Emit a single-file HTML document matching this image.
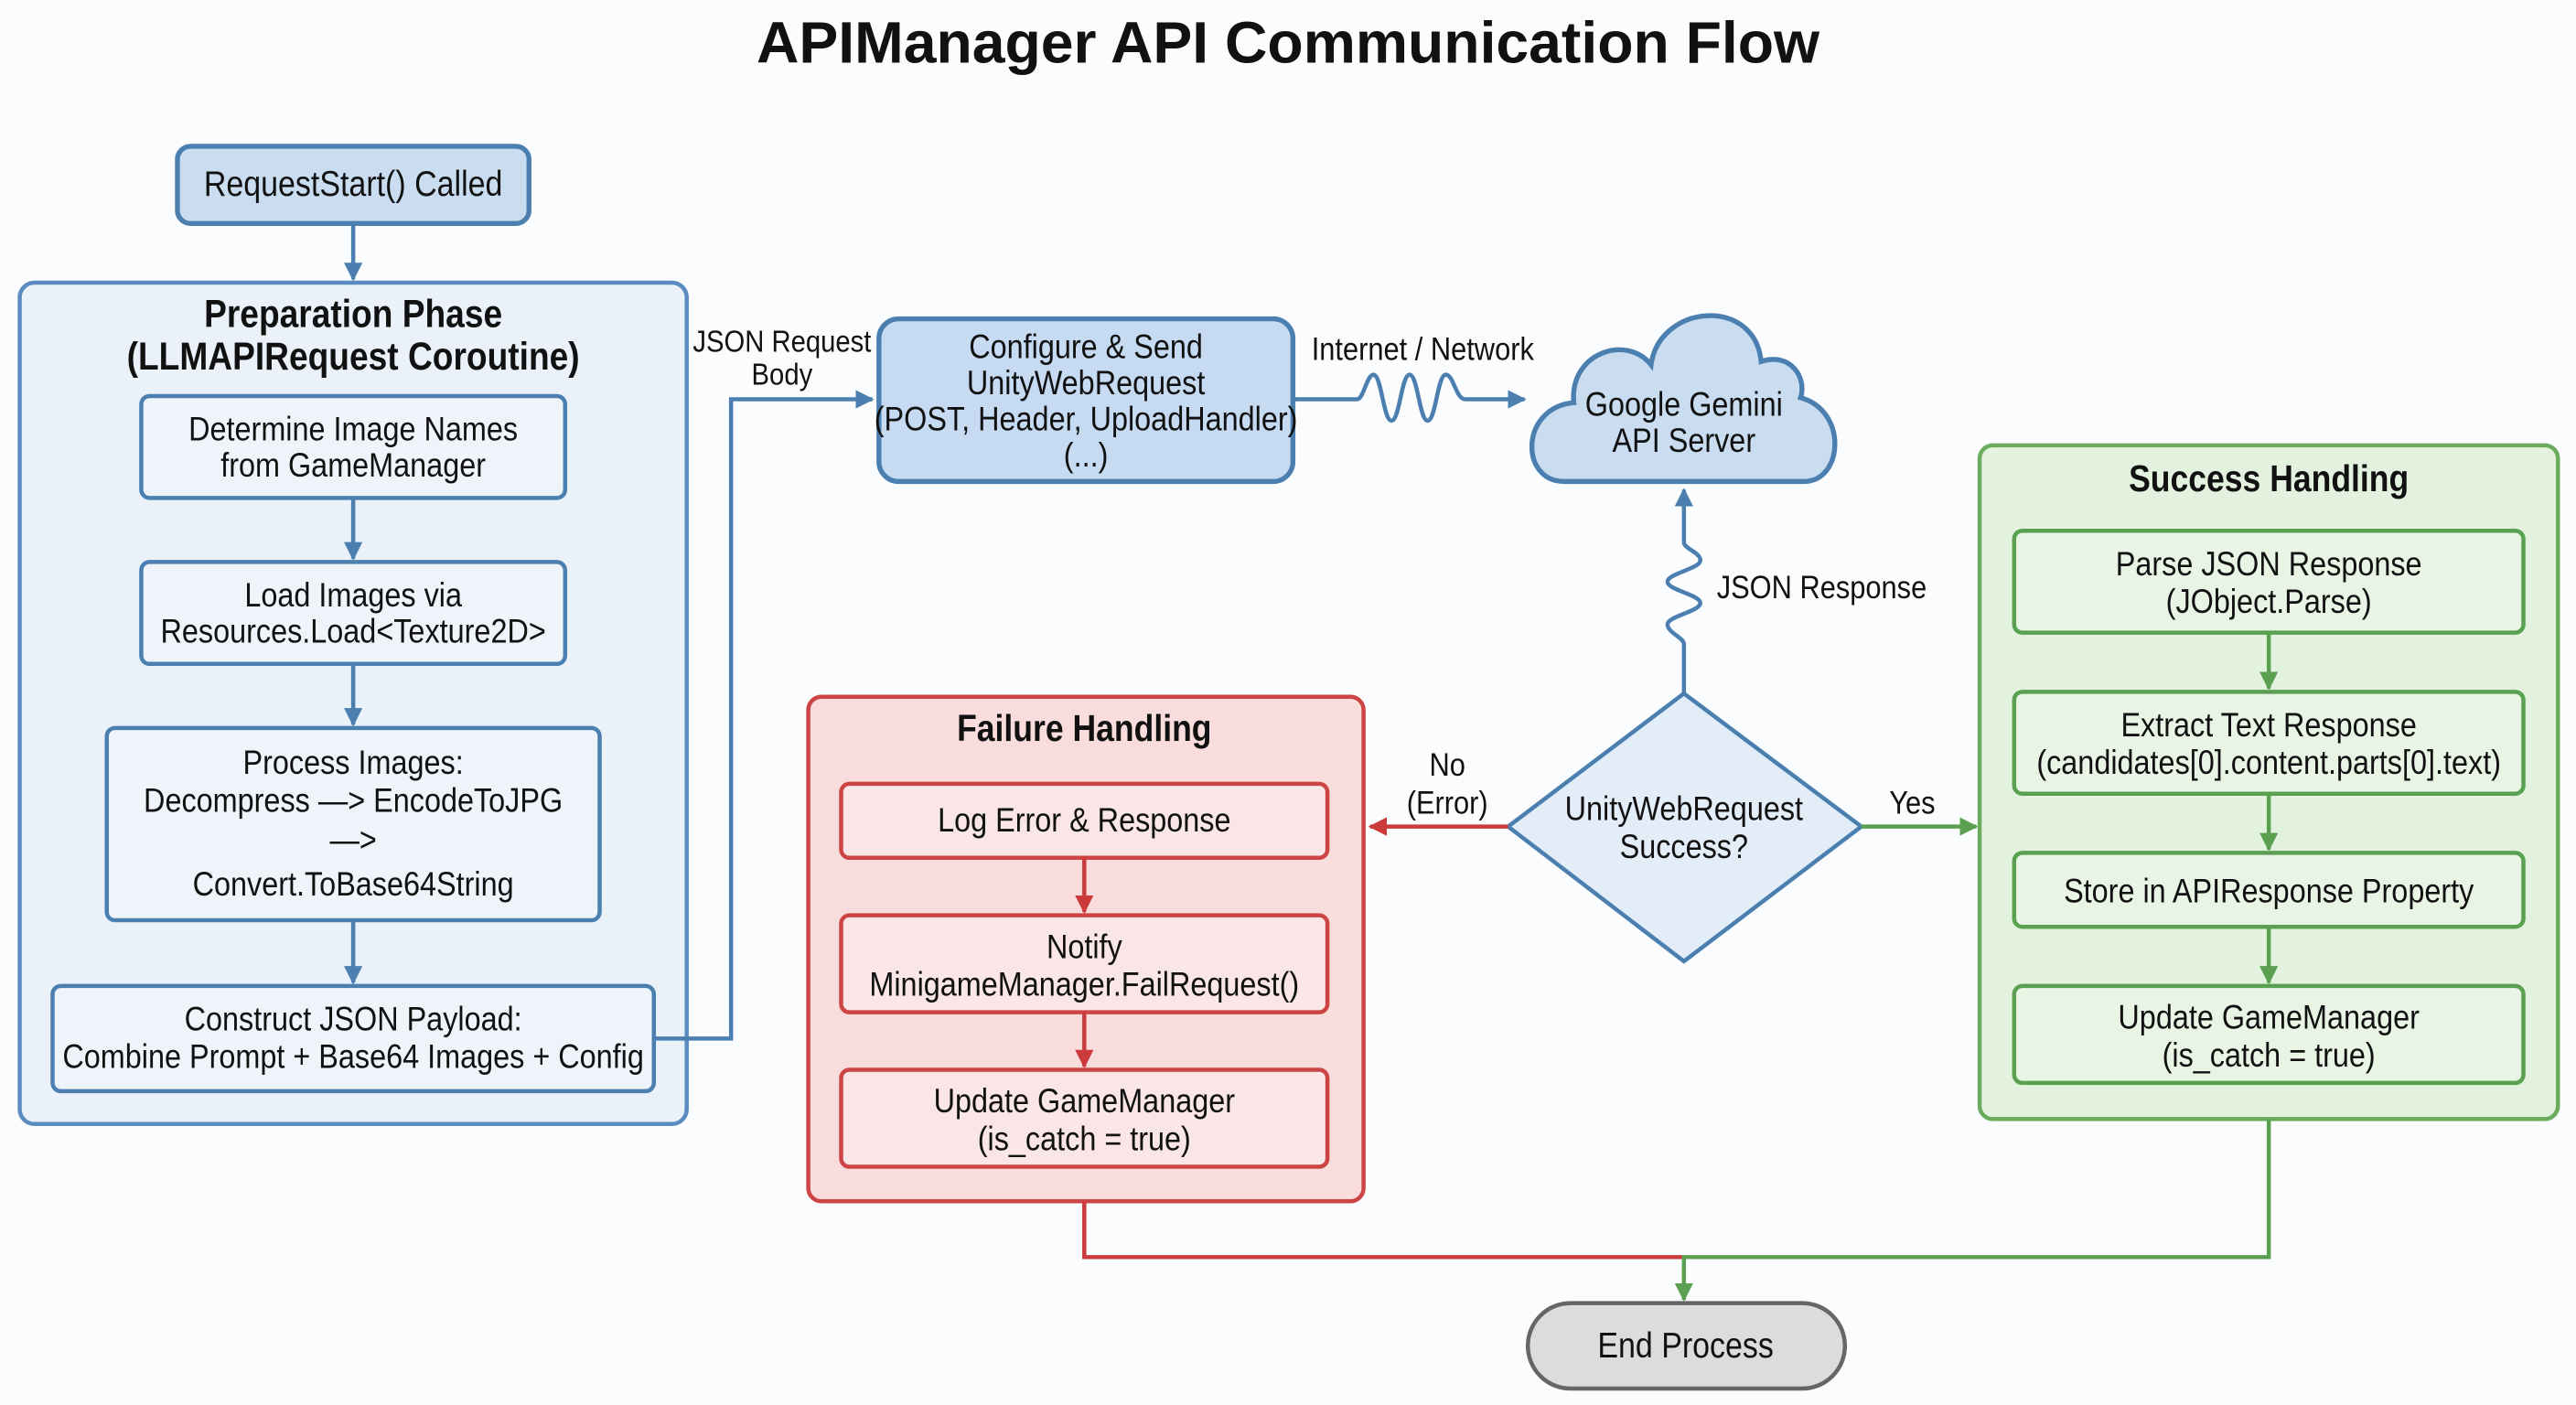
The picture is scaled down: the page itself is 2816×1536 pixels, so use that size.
<!DOCTYPE html>
<html><head><meta charset="utf-8"><style>
html,body{margin:0;padding:0;background:#fbfcfd;}
svg{display:block}
text{font-family:"Liberation Sans",sans-serif;fill:#111;text-anchor:middle;transform-box:fill-box;transform-origin:center;transform:scaleX(0.88)}
text.t{transform:none}
text.l{transform-origin:left center}
.b{font-weight:bold}
</style></head><body>
<svg width="2816" height="1536" viewBox="0 0 1568 855" preserveAspectRatio="none" xmlns="http://www.w3.org/2000/svg">
<defs>
<marker id="ab" viewBox="0 0 10 10" refX="9" refY="5" markerWidth="4.5" markerHeight="4.5" orient="auto"><path d="M0,0L10,5L0,10z" fill="#4a7fb0"/></marker>
<marker id="ar" viewBox="0 0 10 10" refX="9" refY="5" markerWidth="4.5" markerHeight="4.5" orient="auto"><path d="M0,0L10,5L0,10z" fill="#cc3b3b"/></marker>
<marker id="ag" viewBox="0 0 10 10" refX="9" refY="5" markerWidth="4.5" markerHeight="4.5" orient="auto"><path d="M0,0L10,5L0,10z" fill="#5aa050"/></marker>
</defs>
<rect width="1568" height="855" fill="#fbfcfd"/>
<text x="784" y="38" class="b t" font-size="35.8">APIManager API Communication Flow</text>

<rect x="108" y="89" width="214" height="47" rx="8" fill="#c9dcf0" stroke="#4a7fb0" stroke-width="3"/>
<text x="215" y="119" font-size="21.5">RequestStart() Called</text>

<rect x="12" y="172" width="406" height="512" rx="9" fill="#eaf1f9" stroke="#5b8cc0" stroke-width="2.5"/>
<text x="215" y="199" class="b" font-size="23.5">Preparation Phase</text>
<text x="215" y="225" class="b" font-size="23.5">(LLMAPIRequest Coroutine)</text>
<g fill="#eef4fa" stroke="#4a7fb0" stroke-width="2.5">
<rect x="86" y="241" width="258" height="62" rx="5"/>
<rect x="86" y="342" width="258" height="62" rx="5"/>
<rect x="65" y="443" width="300" height="117" rx="5"/>
<rect x="32" y="600" width="366" height="64" rx="5"/>
</g>
<g font-size="20.5">
<text x="215" y="268">Determine Image Names</text>
<text x="215" y="290">from GameManager</text>
<text x="215" y="369">Load Images via</text>
<text x="215" y="391">Resources.Load&lt;Texture2D&gt;</text>
<text x="215" y="471">Process Images:</text>
<text x="215" y="494">Decompress —&gt; EncodeToJPG</text>
<text x="215" y="518">—&gt;</text>
<text x="215" y="545">Convert.ToBase64String</text>
<text x="215" y="627">Construct JSON Payload:</text>
<text x="215" y="650">Combine Prompt + Base64 Images + Config</text>
<text x="476" y="214" font-size="18.5">JSON Request</text>
<text x="476" y="234" font-size="18.5">Body</text>
</g>

<rect x="535" y="194" width="252" height="99" rx="12" fill="#c6dbf1" stroke="#4a7fb0" stroke-width="3"/>
<g font-size="20.5">
<text x="661" y="218">Configure &amp; Send</text>
<text x="661" y="240">UnityWebRequest</text>
<text x="661" y="262">(POST, Header, UploadHandler)</text>
<text x="661" y="284">(...)</text>
</g>
<text x="866" y="219" font-size="19.5">Internet / Network</text>

<path d="M952,293 C925,293 925,248 958,245 C955,215 990,203 1005,222 C1010,185 1068,180 1072,220 C1090,214 1100,230 1096,242 C1125,250 1122,293 1098,293 Z" fill="#c9dcf0" stroke="#4a7fb0" stroke-width="3"/>
<text x="1025" y="253" font-size="20.5">Google Gemini</text>
<text x="1025" y="275" font-size="20.5">API Server</text>
<text x="1045" y="364" font-size="19.5" class="l" style="text-anchor:start">JSON Response</text>

<g stroke="#4a7fb0" stroke-width="2.5" fill="none">
<path d="M215,136V170" marker-end="url(#ab)"/>
<path d="M215,303V340" marker-end="url(#ab)"/>
<path d="M215,404V441" marker-end="url(#ab)"/>
<path d="M215,560V598" marker-end="url(#ab)"/>
<path d="M398,632H445V243H531" marker-end="url(#ab)"/>
<path d="M787,243H826 C830,243 832,228 836,228 C841,228 842,256 847,256 C852,256 853,228 858,228 C863,228 864,256 869,256 C874,256 875,228 880,228 C885,228 886,243 892,243 H928" marker-end="url(#ab)"/>
<path d="M1025,422V392 C1025,388 1015,385 1015,380 C1015,375 1035,372 1035,367 C1035,362 1015,359 1015,354 C1015,349 1035,346 1035,341 C1035,336 1025,334 1025,330 V298" marker-end="url(#ab)"/>
</g>

<path d="M1025,422L1133,503L1025,585L918,503Z" fill="#e3edf8" stroke="#4a7fb0" stroke-width="2.5"/>
<text x="1025" y="499" font-size="20.5">UnityWebRequest</text>
<text x="1025" y="522" font-size="20.5">Success?</text>

<path d="M918,503H834" stroke="#cc3b3b" stroke-width="2.5" fill="none" marker-end="url(#ar)"/>
<text x="881" y="472" font-size="19.5">No</text>
<text x="881" y="495" font-size="19.5">(Error)</text>
<path d="M1133,503H1203" stroke="#5aa050" stroke-width="2.5" fill="none" marker-end="url(#ag)"/>
<text x="1164" y="495" font-size="19.5">Yes</text>

<rect x="492" y="424" width="338" height="307" rx="8" fill="#f9dcdc" stroke="#cc4444" stroke-width="2.5"/>
<text x="660" y="451" class="b" font-size="22.5">Failure Handling</text>
<g fill="#fae6e6" stroke="#cc4444" stroke-width="2.5">
<rect x="512" y="477" width="296" height="45" rx="5"/>
<rect x="512" y="557" width="296" height="59" rx="5"/>
<rect x="512" y="651" width="296" height="59" rx="5"/>
</g>
<g stroke="#cc3b3b" stroke-width="2.5" fill="none">
<path d="M660,522V555" marker-end="url(#ar)"/>
<path d="M660,616V649" marker-end="url(#ar)"/>
</g>
<g font-size="20.5">
<text x="660" y="506">Log Error &amp; Response</text>
<text x="660" y="583">Notify</text>
<text x="660" y="606">MinigameManager.FailRequest()</text>
<text x="660" y="677">Update GameManager</text>
<text x="660" y="700">(is_catch = true)</text>
</g>

<rect x="1205" y="271" width="352" height="410" rx="8" fill="#e3f2df" stroke="#6aab5e" stroke-width="2.5"/>
<text x="1381" y="299" class="b" font-size="22.5">Success Handling</text>
<g fill="#e8f4e4" stroke="#5aa050" stroke-width="2.5">
<rect x="1226" y="323" width="310" height="62" rx="5"/>
<rect x="1226" y="421" width="310" height="62" rx="5"/>
<rect x="1226" y="519" width="310" height="45" rx="5"/>
<rect x="1226" y="600" width="310" height="59" rx="5"/>
</g>
<g stroke="#5aa050" stroke-width="2.5" fill="none">
<path d="M1381,385V419" marker-end="url(#ag)"/>
<path d="M1381,483V517" marker-end="url(#ag)"/>
<path d="M1381,564V598" marker-end="url(#ag)"/>
</g>
<g font-size="20.5">
<text x="1381" y="350">Parse JSON Response</text>
<text x="1381" y="373">(JObject.Parse)</text>
<text x="1381" y="448">Extract Text Response</text>
<text x="1381" y="471">(candidates[0].content.parts[0].text)</text>
<text x="1381" y="549">Store in APIResponse Property</text>
<text x="1381" y="626">Update GameManager</text>
<text x="1381" y="649">(is_catch = true)</text>
</g>

<path d="M660,731V765H1025" stroke="#cc3b3b" stroke-width="2.5" fill="none"/>
<path d="M1381,681V765H1025V791" stroke="#5aa050" stroke-width="2.5" fill="none" marker-end="url(#ag)"/>

<rect x="930" y="793" width="193" height="52" rx="26" fill="#dcdcdc" stroke="#666" stroke-width="2.5"/>
<text x="1026" y="826" font-size="21.5">End Process</text>
</svg>
</body></html>
